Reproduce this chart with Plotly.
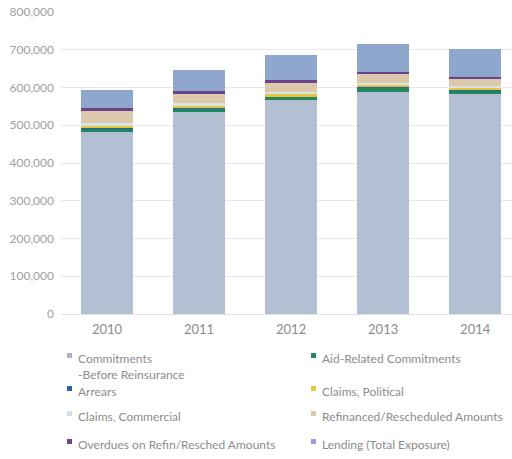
import plotly.graph_objects as go

# Exposure by year, stacked components (USD)
years = ["2010", "2011", "2012", "2013", "2014"]

commitments = [482000, 534000, 566000, 589000, 582000]
aid_related = [10000, 10000, 9000, 11000, 10000]
arrears = [1000, 1000, 1000, 1000, 1000]
claims_political = [7000, 8000, 7000, 7000, 6000]
claims_commercial = [5000, 5000, 6000, 5000, 5000]
refinanced = [32000, 25000, 23000, 22000, 18000]
overdues = [8000, 7000, 7000, 7000, 6000]
lending = [48000, 57000, 68000, 74000, 73000]

series_names = [
    "Commitments<br>-Before Reinsurance",
    "Aid-Related Commitments",
    "Arrears",
    "Claims, Political",
    "Claims, Commercial",
    "Refinanced/Rescheduled Amounts",
    "Overdues on Refin/Resched Amounts",
    "Lending (Total Exposure)",
]
series_values = [commitments, aid_related, arrears, claims_political,
                 claims_commercial, refinanced, overdues, lending]
series_colors = ["#b3bfd2", "#22875c", "#2463a8", "#e6c43c",
                 "#d9e4ea", "#dcc8aa", "#6c428c", "#8ea6cb"]
legend_colors = ["#aab3ca", "#22875c", "#2463a8", "#e6c43c",
                 "#d3dfe6", "#dcc8aa", "#6c428c", "#8ea6cb"]

y_ticks = list(range(0, 800001, 100000))

fig = go.Figure()
for name, vals, col in zip(series_names, series_values, series_colors):
    fig.add_trace(go.Bar(
        x=years, y=vals, name=name.replace("<br>", " "),
        marker=dict(color=col, line=dict(width=0)),
        showlegend=False,
    ))

# Plot-area geometry in pixels (used to place the legend block)
W, H = 512, 459
M_L, M_R, M_T, M_B = 61, 0, 12, 145
pw, ph = W - M_L - M_R, H - M_T - M_B


def px_to_paper(xp, yp):
    return (xp - M_L) / pw, (H - M_B - yp) / ph


# Two-column legend below the chart
col_text_x = [76, 320]
row_y = [358, 391, 416, 444]
shapes = []
annotations = []
for i, (name, col) in enumerate(zip(series_names, legend_colors)):
    r, c = divmod(i, 2)
    tx = col_text_x[c]
    ty = row_y[r]
    lines = name.count("<br>") + 1
    ax, ay = px_to_paper(tx, ty)
    annotations.append(dict(
        x=ax, y=ay, xref="paper", yref="paper",
        xanchor="left", yanchor="top" if lines > 1 else "middle",
        yshift=9 if lines > 1 else 0,
        text=name, showarrow=False, align="left",
        font=dict(family="Lato", size=12, color="#8c8c8c"),
    ))
    x0, y0 = px_to_paper(tx - 9, ty - 5)
    x1, y1 = px_to_paper(tx - 4, ty)
    shapes.append(dict(
        type="rect", xref="paper", yref="paper",
        x0=x0, x1=x1, y0=y1, y1=y0,
        fillcolor=col, line=dict(width=0),
    ))

fig.update_layout(
    barmode="stack",
    bargap=0.435,
    width=W, height=H,
    margin=dict(l=M_L, r=M_R, t=M_T, b=M_B),
    paper_bgcolor="white",
    plot_bgcolor="white",
    font=dict(family="Lato", color="#9a9a9a"),
    shapes=shapes,
    annotations=annotations,
    xaxis=dict(
        type="category",
        range=[-0.5, 4.4],
        showgrid=False,
        showline=False,
        ticks="",
        tickfont=dict(family="Lato", size=13, color="#8c8c8c"),
        ticklabelstandoff=6,
    ),
    yaxis=dict(
        range=[0, 800000],
        tickvals=y_ticks,
        tickformat=",",
        showgrid=True,
        gridcolor="#e8e8e8",
        gridwidth=1,
        zeroline=True,
        zerolinecolor="#e0e0e0",
        zerolinewidth=1,
        showline=False,
        ticks="",
        tickfont=dict(family="Lato", size=12, color="#a0a0a0"),
        ticklabelstandoff=6,
    ),
)

fig.write_html("out.html")
